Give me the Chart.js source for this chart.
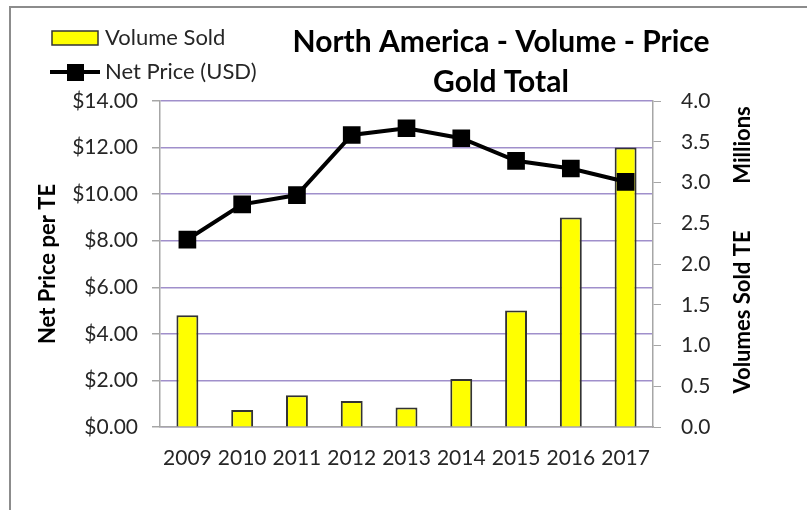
<!DOCTYPE html>
<html>
<head>
<meta charset="utf-8">
<script src="https://cdn.jsdelivr.net/npm/chart.js@4.4.1/dist/chart.umd.min.js"></script>
<style>
  html, body { margin: 0; padding: 0; background: #ffffff; }
  #wrap { position: relative; width: 807px; height: 510px; }
</style>
</head>
<body>
<div id="wrap"><canvas id="c" width="807" height="510"></canvas></div>
<script>
const years = ['2009','2010','2011','2012','2013','2014','2015','2016','2017'];
const volumeSold = [1.37, 0.21, 0.39, 0.32, 0.24, 0.59, 1.43, 2.57, 3.43];
const netPrice = [8.05, 9.56, 9.96, 12.54, 12.83, 12.40, 11.43, 11.10, 10.53];
const priceTicks = [0, 2, 4, 6, 8, 10, 12, 14];
const volumeTicks = [0, 0.5, 1, 1.5, 2, 2.5, 3, 3.5, 4];
const titleLines = ['North America - Volume - Price', 'Gold Total'];
const leftAxisTitle = 'Net Price per TE';
const rightAxisTitle = 'Volumes Sold TE';
const rightUnitLabel = 'Millions';
const seriesNames = ['Volume Sold', 'Net Price (USD)'];

const FONT = 'Lato, "Open Sans", sans-serif';
const TXT = '#262626';

const decor = {
  id: 'decor',
  beforeDraw(chart) {
    const ctx = chart.ctx;
    ctx.save();
    ctx.fillStyle = '#ffffff';
    ctx.fillRect(0, 0, chart.width, chart.height);
    ctx.strokeStyle = '#8c8c8c';
    ctx.lineWidth = 2;
    ctx.strokeRect(10, 7, 830, 540);
    ctx.restore();
  },
  afterDraw(chart) {
    const ctx = chart.ctx;
    ctx.save();
    // title
    ctx.fillStyle = '#000000';
    ctx.font = 'bold 30px ' + FONT;
    ctx.textAlign = 'center';
    ctx.textBaseline = 'middle';
    ctx.fillText(titleLines[0], 501, 42);
    ctx.fillText(titleLines[1], 501, 82);
    // legend
    ctx.fillStyle = '#ffff00';
    ctx.strokeStyle = '#333333';
    ctx.lineWidth = 1.5;
    ctx.fillRect(52, 31, 46, 14);
    ctx.strokeRect(52, 31, 46, 14);
    ctx.strokeStyle = '#000000';
    ctx.lineWidth = 4;
    ctx.beginPath();
    ctx.moveTo(50, 72);
    ctx.lineTo(100, 72);
    ctx.stroke();
    ctx.fillStyle = '#000000';
    ctx.fillRect(67, 64, 17, 17);
    ctx.fillStyle = TXT;
    ctx.font = '22px ' + FONT;
    ctx.textAlign = 'left';
    ctx.fillText(seriesNames[0], 105, 38);
    ctx.fillText(seriesNames[1], 105, 72);
    // right axis titles
    ctx.fillStyle = '#000000';
    ctx.font = 'bold 22px ' + FONT;
    ctx.textAlign = 'center';
    ctx.translate(743, 145);
    ctx.rotate(-Math.PI / 2);
    ctx.fillText(rightUnitLabel, 0, 0);
    ctx.rotate(Math.PI / 2);
    ctx.translate(0, 312 - 145);
    ctx.rotate(-Math.PI / 2);
    ctx.fillText(rightAxisTitle, 0, 0);
    ctx.restore();
  }
};

new Chart(document.getElementById('c'), {
  type: 'bar',
  data: {
    labels: years,
    datasets: [
      {
        type: 'line',
        label: seriesNames[1],
        data: netPrice,
        yAxisID: 'yPrice',
        borderColor: '#000000',
        backgroundColor: '#000000',
        borderWidth: 4,
        pointStyle: 'rect',
        pointRadius: 12.5,
        pointHoverRadius: 12.5,
        pointBackgroundColor: '#000000',
        pointBorderWidth: 0,
        tension: 0,
        order: 0
      },
      {
        type: 'bar',
        label: seriesNames[0],
        data: volumeSold,
        yAxisID: 'yVol',
        backgroundColor: '#ffff00',
        borderColor: '#333333',
        borderWidth: 2,
        barPercentage: 0.4,
        categoryPercentage: 1.0,
        order: 1
      }
    ]
  },
  options: {
    responsive: false,
    animation: false,
    devicePixelRatio: 1,
    layout: { padding: { top: 101, left: 0, right: 0, bottom: 0 } },
    plugins: {
      legend: { display: false },
      title: { display: false },
      tooltip: { enabled: false }
    },
    scales: {
      x: {
        offset: true,
        grid: { display: false, drawTicks: false },
        border: { display: true, color: '#a6a6a6', width: 1.5 },
        ticks: { color: TXT, font: { family: FONT, size: 21 }, padding: 19, maxRotation: 0, autoSkip: false },
        afterFit(s) { s.height = 83; }
      },
      yPrice: {
        position: 'left',
        min: priceTicks[0],
        max: priceTicks[priceTicks.length - 1],
        afterBuildTicks(s) { s.ticks = priceTicks.map(v => ({ value: v })); },
        grid: { color: '#a08fcb', lineWidth: 1.5, tickColor: '#a6a6a6', tickLength: 8, drawTicks: true },
        border: { display: true, color: '#a6a6a6', width: 1.5 },
        ticks: {
          color: TXT,
          font: { family: FONT, size: 21 },
          padding: 14,
          callback: v => '$' + Number(v).toFixed(2)
        },
        title: {
          display: true,
          text: leftAxisTitle,
          color: '#000000',
          font: { family: FONT, size: 22, weight: 'bold' },
          padding: { top: 35, bottom: 0 }
        },
        afterFit(s) { s.width = 160; }
      },
      yVol: {
        position: 'right',
        min: volumeTicks[0],
        max: volumeTicks[volumeTicks.length - 1],
        afterBuildTicks(s) { s.ticks = volumeTicks.map(v => ({ value: v })); },
        grid: { drawOnChartArea: false, tickColor: '#a6a6a6', tickLength: 8 },
        border: { display: true, color: '#a6a6a6', width: 1.5 },
        ticks: {
          color: TXT,
          font: { family: FONT, size: 21 },
          padding: 20,
          callback: v => Number(v).toFixed(1)
        },
        afterFit(s) { s.width = 154; }
      }
    }
  },
  plugins: [decor]
});
</script>
</body>
</html>
